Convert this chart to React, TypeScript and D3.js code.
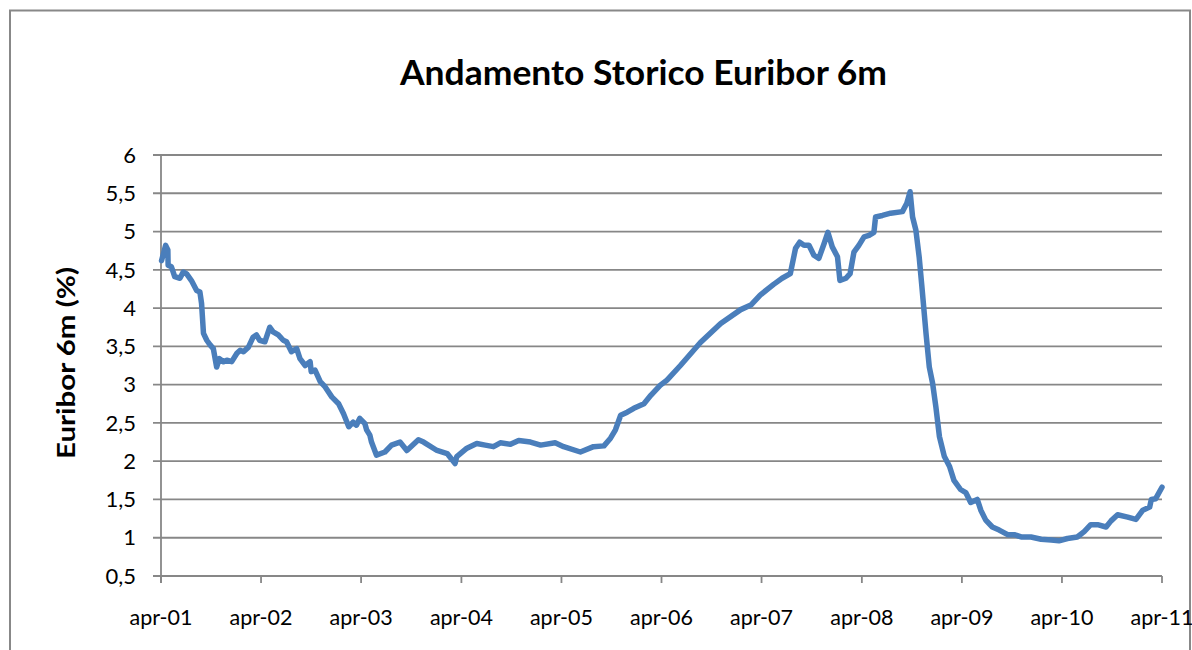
import React from "react";
import * as d3 from "d3";

const dates: string[] = [
  "2001-04-03","2001-04-18","2001-04-26","2001-04-27","2001-05-09","2001-05-21","2001-06-09","2001-06-21","2001-07-03","2001-07-21",
  "2001-08-09","2001-08-21","2001-08-27","2001-09-03","2001-09-15","2001-09-27","2001-10-09","2001-10-21","2001-10-31","2001-11-15",
  "2001-11-27","2001-12-15","2002-01-03","2002-01-15","2002-01-27","2002-02-14","2002-03-03","2002-03-15","2002-03-27","2002-04-15",
  "2002-05-03","2002-05-15","2002-06-03","2002-06-21","2002-07-03","2002-07-21","2002-08-09","2002-08-21","2002-09-09","2002-09-27",
  "2002-10-01","2002-10-15","2002-11-03","2002-11-21","2002-12-15","2003-01-09","2003-01-27","2003-02-15","2003-03-03","2003-03-15",
  "2003-03-27","2003-04-15","2003-04-21","2003-05-03","2003-05-09","2003-05-27","2003-06-27","2003-07-21","2003-08-21","2003-09-15",
  "2003-10-27","2003-11-15","2004-01-03","2004-02-09","2004-03-09","2004-03-15","2004-04-21","2004-05-27","2004-06-27","2004-07-27",
  "2004-08-21","2004-09-27","2004-10-27","2004-12-09","2005-01-15","2005-03-09","2005-04-09","2005-06-09","2005-07-27","2005-09-03",
  "2005-09-27","2005-10-15","2005-11-03","2005-11-27","2005-12-21","2006-01-27","2006-02-21","2006-03-27","2006-04-21","2006-06-09",
  "2006-08-21","2006-11-03","2007-01-15","2007-02-21","2007-03-27","2007-05-15","2007-06-15","2007-07-15","2007-08-03","2007-08-18",
  "2007-09-03","2007-09-21","2007-10-09","2007-10-27","2007-11-15","2007-11-29","2007-12-15","2008-01-03","2008-01-12","2008-02-03",
  "2008-02-18","2008-03-03","2008-03-21","2008-04-09","2008-04-27","2008-05-15","2008-05-21","2008-06-15","2008-07-15","2008-08-27",
  "2008-09-12","2008-09-24","2008-10-03","2008-10-15","2008-10-27","2008-11-05","2008-11-10","2008-11-21","2008-12-03","2008-12-15",
  "2008-12-27","2009-01-09","2009-01-27","2009-02-15","2009-03-03","2009-03-27","2009-04-15","2009-05-03","2009-05-27","2009-06-09",
  "2009-06-27","2009-07-21","2009-08-15","2009-09-15","2009-10-09","2009-11-03","2009-12-09","2010-01-15","2010-02-21","2010-03-21",
  "2010-04-21","2010-05-27","2010-06-21","2010-07-15","2010-08-09","2010-09-09","2010-09-27","2010-10-21","2010-11-27","2010-12-27",
  "2011-01-21","2011-02-15","2011-02-21","2011-03-09","2011-04-01"
];

const euribor: number[] = [
  4.62,4.82,4.76,4.56,4.54,4.41,4.39,4.47,4.45,4.36,
  4.23,4.21,4.06,3.67,3.58,3.52,3.47,3.23,3.34,3.30,
  3.32,3.30,3.41,3.45,3.43,3.49,3.62,3.65,3.58,3.56,
  3.75,3.69,3.65,3.58,3.56,3.43,3.47,3.34,3.25,3.30,
  3.17,3.19,3.04,2.97,2.84,2.75,2.62,2.45,2.51,2.47,
  2.56,2.49,2.41,2.34,2.25,2.08,2.12,2.21,2.25,2.14,
  2.28,2.25,2.14,2.10,1.97,2.06,2.17,2.23,2.21,2.19,
  2.24,2.22,2.27,2.25,2.21,2.24,2.19,2.12,2.19,2.20,
  2.30,2.41,2.60,2.64,2.69,2.75,2.86,2.99,3.06,3.25,
  3.55,3.80,3.98,4.04,4.17,4.31,4.39,4.45,4.78,4.86,
  4.82,4.82,4.69,4.65,4.84,4.99,4.80,4.67,4.36,4.39,
  4.45,4.73,4.82,4.93,4.95,4.99,5.19,5.21,5.24,5.26,
  5.37,5.52,5.19,5.02,4.67,4.32,4.12,3.67,3.23,3.02,
  2.71,2.32,2.06,1.93,1.75,1.63,1.59,1.46,1.50,1.36,
  1.23,1.14,1.10,1.04,1.04,1.01,1.01,0.98,0.97,0.96,
  0.99,1.01,1.08,1.17,1.17,1.14,1.22,1.30,1.27,1.24,
  1.36,1.40,1.50,1.51,1.66
];

const xTickLabels: string[] = ["apr-01","apr-02","apr-03","apr-04","apr-05","apr-06","apr-07","apr-08","apr-09","apr-10","apr-11"];
const yTicks: number[] = [0.5, 1, 1.5, 2, 2.5, 3, 3.5, 4, 4.5, 5, 5.5, 6];
const title = "Andamento Storico Euribor 6m";
const yTitle = "Euribor 6m (%)";

const W = 1192;
const H = 650;
const left = 161;
const right = 1162;
const top = 155;
const bottom = 576;
const FONT = "Lato, 'Open Sans', sans-serif";
const GRID = "#878787";

export default function App() {
  const parse = d3.timeParse("%Y-%m-%d");
  const data = dates.map((d, i) => ({ date: parse(d) as Date, v: euribor[i] }));
  const x = d3.scaleTime().domain([new Date(2001, 3, 1), new Date(2011, 3, 1)]).range([left, right]);
  const y = d3.scaleLinear().domain([0.5, 6]).range([bottom, top]);
  const line = d3.line<{ date: Date; v: number }>().x(d => x(d.date)).y(d => y(d.v)).curve(d3.curveLinear);
  const fmt = (v: number) => String(v).replace(".", ",");
  const xTicks = xTickLabels.map((_, i) => new Date(2001 + i, 3, 1));

  return (
    <svg width={W} height={H} style={{ position: "absolute", left: 0, top: 0, background: "#fff" }}>
      <rect x={10} y={10.5} width={1180} height={660} fill="#fff" stroke="#888" strokeWidth={2} />
      <text x={643.5} y={84.5} textAnchor="middle" fontFamily={FONT} fontWeight="bold" fontSize={34} textLength={487} lengthAdjust="spacingAndGlyphs" fill="#000">{title}</text>
      <text transform={`translate(75,363) rotate(-90)`} textAnchor="middle" fontFamily={FONT} fontWeight="bold" fontSize={25} textLength={192} lengthAdjust="spacingAndGlyphs" fill="#000">{yTitle}</text>
      {yTicks.map(t => (
        <g key={t}>
          <line x1={153} x2={right} y1={y(t)} y2={y(t)} stroke={GRID} strokeWidth={1.8} />
          <text x={136} y={y(t)} dy="0.35em" textAnchor="end" fontFamily={FONT} fontSize={22} fill="#000">{fmt(t)}</text>
        </g>
      ))}
      <line x1={left} x2={left} y1={top} y2={bottom + 7} stroke={GRID} strokeWidth={1.8} />
      {xTicks.map((d, i) => (
        <g key={i}>
          <line x1={x(d)} x2={x(d)} y1={bottom} y2={bottom + 7} stroke={GRID} strokeWidth={1.8} />
          <text x={x(d)} y={617} dy="0.35em" textAnchor="middle" fontFamily={FONT} fontSize={21.5} fill="#000">{xTickLabels[i]}</text>
        </g>
      ))}
      <path d={line(data) || ""} fill="none" stroke="#4a7ebb" strokeWidth={5.5} strokeLinejoin="round" strokeLinecap="round" />
    </svg>
  );
}
